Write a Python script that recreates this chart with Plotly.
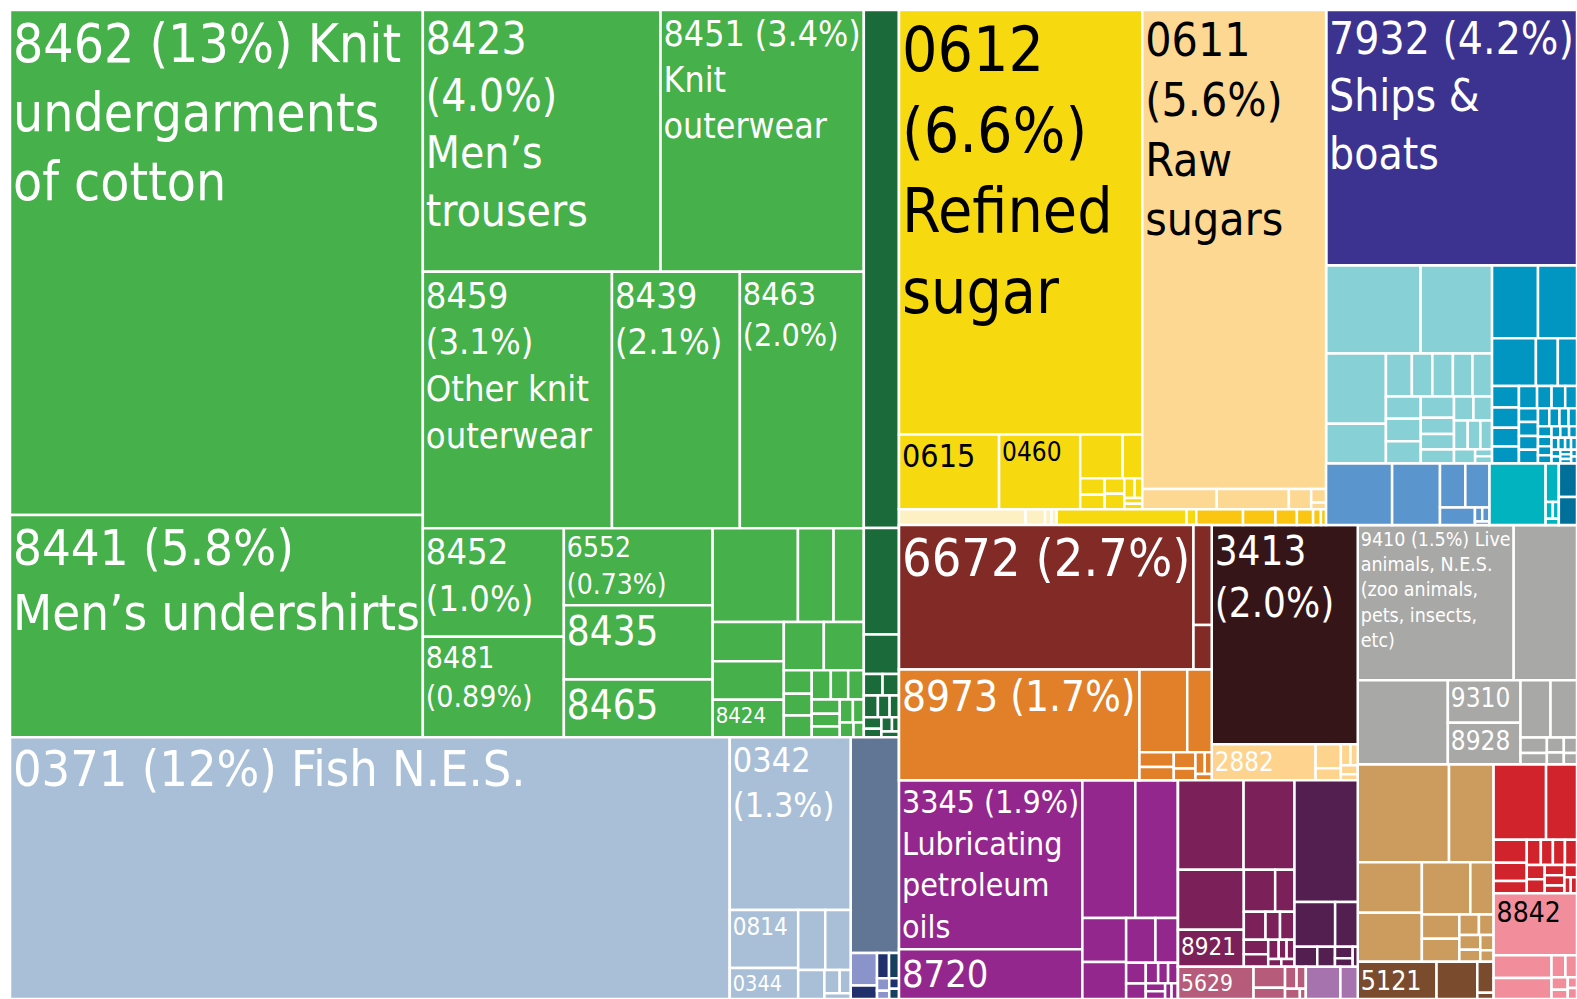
import plotly.graph_objects as go

FONT = "'Liberation Sans Narrow', 'DejaVu Sans Condensed', 'Roboto Condensed', 'Arial Narrow', 'Liberation Sans', sans-serif"

# ---------------- colours ----------------
GREEN, DGREEN = "#46b04a", "#1b6a3a"
FISH, SLATE, LAV, NAVY, DTEAL = "#a8bfd7", "#617594", "#8a94cb", "#20306c", "#17405f"
YEL, PEACH, CREAM, GOLD = "#f6d90e", "#fdd892", "#fdf0c2", "#fbc612"
INDIGO, LCYAN, TBLUE, MBLUE, CYAN, DTB = "#3c3290", "#86d0d6", "#0096c1", "#5b95cd", "#00b3be", "#00709b"
MAROON, DBROWN, ORANGE, LPEACH = "#822a26", "#361519", "#e18028", "#fdd38e"
PURPLE, PLUM, DPURP, PINKISH, ORCHID = "#94278e", "#7c2059", "#531e50", "#b65b7a", "#a773ae"
GRAY, TAN, BROWN, RED, PINK = "#a8a8a6", "#cc9c5f", "#7a4b2d", "#d0232b", "#f28e9b"

# ---------------- hierarchy of grouping blocks (id, parent) ----------------
BLOCKS = [
    ("GREEN", "root"), ("LG", "GREEN"), ("DG", "GREEN"),
    ("FISH", "root"), ("FX", "FISH"), ("FA", "FX"), ("FB", "FISH"),
    ("SUGAR", "root"), ("SU", "SUGAR"), ("S1", "SU"), ("S2", "SU"),
    ("STRIP", "SUGAR"), ("SC", "STRIP"), ("SY", "STRIP"), ("SG", "STRIP"),
    ("BLUE", "root"), ("LC", "BLUE"), ("TB", "BLUE"), ("MB", "BLUE"),
    ("MB1", "MB"), ("MB2", "MB"), ("MB3", "MB"),
    ("X", "root"), ("XL", "X"), ("MAR", "XL"), ("ORG", "XL"), ("XR", "X"),
    ("Y", "root"), ("PUR", "Y"), ("REST", "Y"), ("RT", "REST"), ("PLUM", "RT"),
    ("DPU", "RT"), ("RB", "REST"), ("PK", "RB"), ("ORC", "RB"),
    ("Z", "root"), ("W", "root"), ("TAN", "W"), ("BRN", "W"),
    ("V", "root"), ("RED", "V"), ("PINK", "V"),
]

# ---------------- leaf values (relative export shares) ----------------
LG_VALUES = [205.8, 90.6, 61.4, 52.5, 47.9, 32.4, 31.4, 15.1, 14.0, 11.3, 10.9, 8.5,
             7.9, 3.3, 2.8, 2.75, 2.7, 2.65, 1.9, 1.9, 0.65, 0.6, 0.6, 0.55, 0.5, 0.45,
             0.4, 0.35, 0.3, 0.3, 0.25, 0.2, 0.15]
LG_TEXT = ["8462 (13%) Knit<br>undergarments<br>of cotton", "8441 (5.8%)<br>Men’s undershirts",
           "8423<br>(4.0%)<br>Men’s<br>trousers", "8451 (3.4%)<br>Knit<br>outerwear",
           "8459<br>(3.1%)<br>Other knit<br>outerwear", "8439<br>(2.1%)", "8463<br>(2.0%)",
           "8452<br>(1.0%)", "8481<br>(0.89%)", "6552<br>(0.73%)", "8435", "8465",
           "", "", "", "", "", "8424"]
LG_SIZE = [53, 52, 44, 38, 36, 36, 32, 36, 30, 28, 40, 40, 10, 10, 10, 10, 10, 22]

DG_VALUES = [18.0, 3.7, 1.37, 0.4, 0.35, 0.3, 0.25, 0.2, 0.2, 0.15, 0.15, 0.1, 0.1]

FX_VALUES = [185.9]
FX_TEXT = ["0371 (12%) Fish N.E.S."]
FX_SIZE = [50]

FA_VALUES = [20.6, 3.9, 2.1, 1.6, 1.5, 0.75, 0.35, 0.25, 0.15]
FA_TEXT = ["0342<br>(1.3%)", "0814", "0344"]
FA_SIZE = [34, 24, 24]

FB_VALUES = [10.3, 0.85, 0.35, 0.3, 0.25, 0.15, 0.1, 0.1, 0.1]
FB_COLORS = [SLATE, LAV, NAVY, NAVY, DTEAL, LAV, LAV, NAVY, DTEAL]

S1_VALUES = [101.9, 7.4, 6.0, 1.84, 0.85, 0.4, 0.35, 0.3, 0.3, 0.2, 0.15, 0.1, 0.1]
S1_TEXT = ["0612<br>(6.6%)<br>Refined<br>sugar", "0615", "0460"]
S1_SIZE = [62, 32, 26]

S2_VALUES = [86.9, 1.5, 1.45, 0.45, 0.2, 0.1]
S2_TEXT = ["0611<br>(5.6%)<br>Raw<br>sugars"]
S2_SIZE = [46]

SC_VALUES = [1.95, 0.3, 0.1, 0.08]
SY_VALUES = [2.0, 0.15]
SG_VALUES = [0.72, 0.5, 0.33, 0.25, 0.12, 0.08]

BLUE_VALUES = [63.3]
BLUE_TEXT = ["7932 (4.2%)<br>Ships &<br>boats"]
BLUE_SIZE = [46]

LC_VALUES = [8.2, 6.2, 4.15, 2.35, 1.1, 0.87, 0.87, 0.83, 0.83, 0.77, 0.77, 0.77, 0.7,
             0.53, 0.51, 0.46, 0.46, 0.44, 0.39, 0.36, 0.33, 0.3, 0.12, 0.12]
TB_VALUES = [3.3, 2.8, 2.06, 1.03, 0.9, 0.57, 0.54, 0.5, 0.45, 0.4, 0.32, 0.3, 0.26, 0.26,
             0.26, 0.26, 0.26, 0.2, 0.18, 0.16, 0.15, 0.14, 0.13, 0.12, 0.11, 0.1, 0.1,
             0.09, 0.08, 0.08, 0.07, 0.07, 0.06, 0.06, 0.05, 0.05, 0.05, 0.04, 0.04]
MB1_VALUES = [4.0, 2.9, 1.1, 1.05, 0.6, 0.1, 0.1, 0.05]
MB2_VALUES = [3.4, 0.5, 0.12, 0.1, 0.08]
MB3_VALUES = [0.6, 0.5]

MAR_VALUES = [42.0, 1.8, 0.8]
MAR_TEXT = ["6672 (2.7%)"]
MAR_SIZE = [52]

ORG_VALUES = [26.3, 3.9, 2.0, 0.5, 0.45, 0.35, 0.25, 0.2, 0.15, 0.1]
ORG_TEXT = ["8973 (1.7%)"]
ORG_SIZE = [42]

XR_VALUES = [31.6, 3.7, 0.6, 0.3, 0.2, 0.15, 0.15, 0.1]
XR_COLORS = [DBROWN] + [LPEACH] * 7
XR_TEXT = ["3413<br>(2.0%)", "2882"]
XR_SIZE = [40, 30]

PUR_VALUES = [30.6, 9.0, 7.2, 5.8, 1.9, 1.6, 1.3, 1.0, 0.4, 0.3, 0.25, 0.2, 0.2, 0.15, 0.15, 0.1, 0.1]
PUR_TEXT = ["3345 (1.9%)<br>Lubricating<br>petroleum<br>oils", "8720"]
PUR_SIZE = [32, 38]

PLUM_VALUES = [5.8, 4.5, 3.9, 2.4, 1.3, 0.8, 0.6, 0.4, 0.4, 0.35, 0.3, 0.2, 0.15, 0.15, 0.1, 0.1]
PLUM_TEXT = ["", "", "", "8921"]
PLUM_SIZE = [10, 10, 10, 24]

DPU_VALUES = [7.6, 1.8, 1.0, 0.45, 0.35, 0.2, 0.15, 0.1]
PK_VALUES = [2.4, 0.65, 0.35, 0.25, 0.2, 0.15, 0.06]
PK_TEXT = ["5629"]
PK_SIZE = [26]
ORC_VALUES = [1.1, 0.55]

Z_VALUES = [23.9, 9.7, 7.5, 3.05, 3.0, 1.7, 1.5, 0.4, 0.3, 0.25, 0.2, 0.2, 0.15]
Z_TEXT = ["9410 (1.5%) Live<br>animals, N.E.S.<br>(zoo animals,<br>pets, insects,<br>etc)", "", "", "9310", "8928"]
Z_SIZE = [22, 10, 10, 26, 26]

TAN_VALUES = [8.8, 4.3, 3.2, 3.1, 2.5, 1.2, 0.9, 0.85, 0.4, 0.3, 0.3, 0.25, 0.2, 0.15]
BRN_VALUES = [2.9, 1.5, 0.5, 0.1]
BRN_TEXT = ["5121"]
BRN_SIZE = [34]

RED_VALUES = [3.9, 2.3, 0.75, 0.6, 0.4, 0.35, 0.3, 0.3, 0.3, 0.25, 0.25, 0.2, 0.2, 0.15, 0.15, 0.1, 0.1]
PINK_VALUES = [5.1, 1.3, 1.2, 0.3, 0.25, 0.2, 0.15, 0.1, 0.1]
PINK_TEXT = ["8842"]
PINK_SIZE = [28]

# ---------------- build the treemap node lists ----------------
ids, parents, labels, values, colors, texts, fsizes, fcolors = [], [], [], [], [], [], [], []


def add(i, p, v, c, t="", s=10, fc="white"):
    ids.append(i)
    parents.append(p)
    labels.append(i)
    values.append(v)
    colors.append(c)
    texts.append(t)
    fsizes.append(s)
    fcolors.append(fc)


add("root", "", 0, "white")
for bid, bpar in BLOCKS:
    add(bid, bpar, 0, "white")


def leaves(block, vals, color, text=(), size=(), fc="white"):
    for k, v in enumerate(vals):
        c = color[k] if isinstance(color, list) else color
        t = text[k] if k < len(text) else ""
        s = size[k] if k < len(size) else 10
        add(f"{block}-{k}", block, v, c, t, s, fc)


leaves("LG", LG_VALUES, GREEN, LG_TEXT, LG_SIZE)
leaves("DG", DG_VALUES, DGREEN)
leaves("FX", FX_VALUES, FISH, FX_TEXT, FX_SIZE)
leaves("FA", FA_VALUES, FISH, FA_TEXT, FA_SIZE)
leaves("FB", FB_VALUES, FB_COLORS)
leaves("S1", S1_VALUES, YEL, S1_TEXT, S1_SIZE, "black")
leaves("S2", S2_VALUES, PEACH, S2_TEXT, S2_SIZE, "black")
leaves("SC", SC_VALUES, CREAM)
leaves("SY", SY_VALUES, YEL)
leaves("SG", SG_VALUES, GOLD)
leaves("BLUE", BLUE_VALUES, INDIGO, BLUE_TEXT, BLUE_SIZE)
leaves("LC", LC_VALUES, LCYAN)
leaves("TB", TB_VALUES, TBLUE)
leaves("MB1", MB1_VALUES, MBLUE)
leaves("MB2", MB2_VALUES, CYAN)
leaves("MB3", MB3_VALUES, DTB)
leaves("MAR", MAR_VALUES, MAROON, MAR_TEXT, MAR_SIZE)
leaves("ORG", ORG_VALUES, ORANGE, ORG_TEXT, ORG_SIZE)
leaves("XR", XR_VALUES, XR_COLORS, XR_TEXT, XR_SIZE)
leaves("PUR", PUR_VALUES, PURPLE, PUR_TEXT, PUR_SIZE)
leaves("PLUM", PLUM_VALUES, PLUM, PLUM_TEXT, PLUM_SIZE)
leaves("DPU", DPU_VALUES, DPURP)
leaves("PK", PK_VALUES, PINKISH, PK_TEXT, PK_SIZE)
leaves("ORC", ORC_VALUES, ORCHID)
leaves("Z", Z_VALUES, GRAY, Z_TEXT, Z_SIZE)
leaves("TAN", TAN_VALUES, TAN)
leaves("BRN", BRN_VALUES, BROWN, BRN_TEXT, BRN_SIZE)
leaves("RED", RED_VALUES, RED)
leaves("PINK", PINK_VALUES, PINK, PINK_TEXT, PINK_SIZE, "black")

fig = go.Figure(go.Treemap(
    ids=ids, labels=labels, parents=parents, values=values,
    branchvalues="remainder", sort=True,
    text=texts, texttemplate="%{text}", textposition="top left",
    textfont=dict(family=FONT, size=fsizes, color=fcolors),
    marker=dict(colors=colors, line=dict(color="white", width=2.5),
                pad=dict(t=0, l=0, r=0, b=0)),
    tiling=dict(packing="squarify", squarifyratio=1.618034, pad=0),
    pathbar=dict(visible=False), hoverinfo="skip", root=dict(color="white"),
    maxdepth=-1,
))
fig.update_layout(width=1577, height=999, margin=dict(l=10, t=10, r=0, b=0),
                  paper_bgcolor="white", plot_bgcolor="white")
fig.write_html("out.html", config={"displayModeBar": False},
               post_script="document.body.style.margin='0';document.documentElement.style.overflow='hidden';")
